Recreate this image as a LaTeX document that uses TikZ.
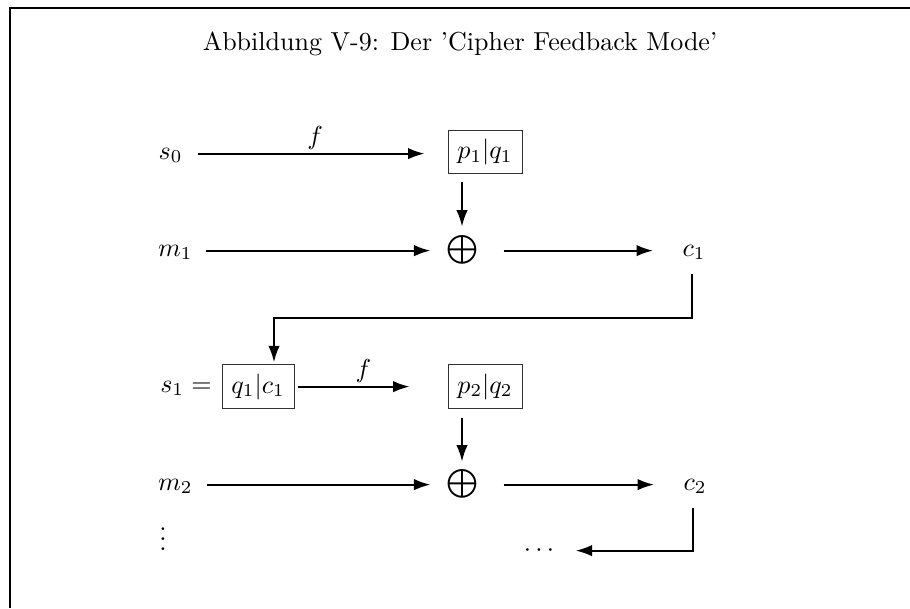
\RequirePackage{fix-cm}
\documentclass[tikz,border=0pt]{standalone}
\usetikzlibrary{arrows.meta,calc}
\begin{document}
\begin{tikzpicture}[x=0.4pt,y=-0.4pt,
  every node/.style={font=\fontsize{10.4}{12.5}\selectfont},
  lbl/.style={inner sep=0pt},
  xor/.style={inner sep=0pt,scale=1.15},
  blk/.style={draw=black!80,line width=0.4pt,inner sep=3pt,minimum width=29.6pt,minimum height=17.4pt},
  arr/.style={line width=0.8pt,-{Latex[length=6.6pt,width=4.6pt]}},
  flab/.style={above,inner sep=1.2pt}]
\useasboundingbox (0,0) rectangle (910,608);
% frame
\draw[line width=0.8pt] (10,608) -- (10,8) -- (910,8);
% title
\node[lbl,anchor=base] (title) at (460,50) {Abbildung V-9: Der 'Cipher Feedback Mode'};

% first block
\node[lbl,anchor=base east] (s0) at (183,159) {$s_0$};
\node[blk] (p1) at (485,152) {$p_1|q_1$};
\node[lbl,anchor=base east] (m1) at (193,256) {$m_1$};
\node[xor] (x1) at (462,250) {$\bigoplus$};
\node[lbl,anchor=base west] (c1) at (682,256) {$c_1$};

% second block
\node[lbl,anchor=base east] (s1) at (212,392) {$s_1 =$};
\node[blk,minimum width=28.8pt] (q1) at (258,386.5) {$q_1|c_1$};
\node[blk] (p2) at (485,386.5) {$p_2|q_2$};
\node[lbl,anchor=base east] (m2) at (193,490) {$m_2$};
\node[xor] (x2) at (462,484) {$\bigoplus$};
\node[lbl,anchor=base west] (c2) at (683,490) {$c_2$};
\node[lbl] (vd) at (163,532) {$\vdots$};
\node[lbl,anchor=base] (dots) at (539,556) {$\cdots$};

\coordinate (fb1) at (274,318);

% connectors, first block
\draw[arr,shorten <=6pt,shorten >=9.2pt] (s0.mid east) -- (s0.mid east -| p1.west)
  node[flab,pos=0.5] (f1) {$f$};
\draw[arr,shorten <=3.2pt,shorten >=3.4pt] (p1.south -| x1.north) -- (x1.north);
\draw[arr,shorten <=5.2pt,shorten >=6pt] (m1.mid east) -- (m1.mid east -| x1.west);
\draw[arr,shorten <=10pt,shorten >=11.6pt] (x1.east |- m1.mid east) -- (m1.mid east -| c1.west);
\draw[arr,shorten >=0.8pt] (c1.south) ++(-2,14) |- (fb1) -- (fb1 |- q1.north);

% connectors, second block
\draw[arr,shorten <=1.2pt,shorten >=15.2pt] (q1.east |- s1.mid east) -- (s1.mid east -| p2.west)
  node[flab,pos=0.45] (f2) {$f$};
\draw[arr,shorten <=3.6pt,shorten >=3pt] (p2.south -| x2.north) -- (x2.north);
\draw[arr,shorten <=5.6pt,shorten >=6pt] (m2.mid east) -- (m2.mid east -| x2.west);
\draw[arr,shorten <=10pt,shorten >=11.6pt] (x2.east |- m2.mid east) -- (m2.mid east -| c2.west);
\draw[arr,shorten >=8.4pt] (c2.south) ++(-2,14) |- (dots.mid east);
\end{tikzpicture}
\end{document}
